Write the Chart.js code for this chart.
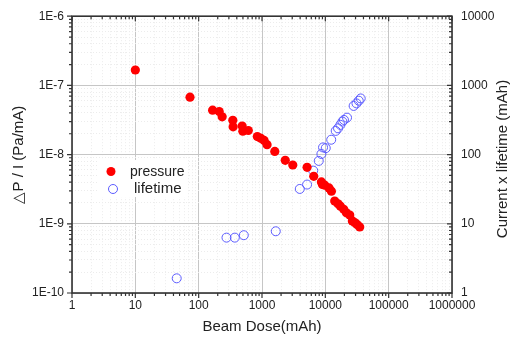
<!DOCTYPE html>
<html>
<head>
<meta charset="utf-8">
<script src="https://cdn.jsdelivr.net/npm/chart.js@4.4.1/dist/chart.umd.min.js"></script>
<style>
html, body { margin: 0; padding: 0; background: #fff; }
#wrap { position: relative; width: 511px; height: 338px; }
</style>
</head>
<body>
<div id="wrap"><canvas id="grafico"></canvas></div>
<script>
// pressure: beam dose (mAh) -> dP / I (Pa/mA), left axis
const pressureDose = [10, 73, 166, 211, 235, 346, 350, 486, 498, 608, 843, 957, 1080, 1203, 1592, 2330, 3060, 5150, 6560, 8670, 9000, 9790, 11430, 12470, 14060, 15850, 17300, 19500, 21500, 24300, 26700, 29100, 31600, 34900];
const pressureValue = [1.67e-7, 6.75e-8, 4.39e-8, 4.18e-8, 3.51e-8, 3.13e-8, 2.52e-8, 2.58e-8, 2.18e-8, 2.23e-8, 1.82e-8, 1.72e-8, 1.60e-8, 1.39e-8, 1.11e-8, 8.26e-9, 7.07e-9, 6.55e-9, 4.86e-9, 4.03e-9, 3.70e-9, 3.61e-9, 3.30e-9, 2.96e-9, 2.13e-9, 1.95e-9, 1.80e-9, 1.62e-9, 1.44e-9, 1.34e-9, 1.10e-9, 1.04e-9, 9.8e-10, 9.0e-10];

// lifetime: beam dose (mAh) -> current x lifetime (mAh), right axis
const lifetimeDose = [45, 275, 372, 516, 1650, 3950, 5150, 6440, 7870, 8670, 9200, 10150, 12380, 14580, 15860, 17300, 18600, 19700, 22000, 28000, 31000, 33700, 36200];
const lifetimeValue = [1.63, 6.31, 6.31, 6.84, 7.80, 31.9, 36.9, 58.7, 81.1, 102, 127, 124, 164, 220, 240, 269, 300, 317, 342, 505, 550, 601, 648];

// tick labels
const xTicks = [1, 10, 100, 1000, 10000, 100000, 1000000];
const xTickLabels = ["1", "10", "100", "1000", "10000", "100000", "1000000"];
const leftTicks = [1e-10, 1e-9, 1e-8, 1e-7, 1e-6];
const leftTickLabels = ["1E-10", "1E-9", "1E-8", "1E-7", "1E-6"];
const rightTicks = [1, 10, 100, 1000, 10000];
const rightTickLabels = ["1", "10", "100", "1000", "10000"];

const fonte = "'Liberation Sans', Arial, sans-serif";
const corTexto = "#222";
const corPressao = "#ff0000";
const corVida = "#5c5cff";

// decades + 2..9 minor ticks
function ticksLog(majors, labels) {
  const out = [];
  for (let i = 0; i < majors.length; i++) {
    out.push({ value: majors[i], major: true, txt: labels[i] });
    if (i < majors.length - 1) {
      for (let k = 2; k <= 9; k++) {
        out.push({ value: majors[i] * k, major: false, txt: "" });
      }
    }
  }
  return out;
}

function gridCor(ctx) {
  return ctx.tick && ctx.tick.major ? "#c6c6c6" : "#ececec";
}
function gridDash(ctx) {
  return ctx.tick && !ctx.tick.major ? [1, 2] : [];
}

// frame, tick marks, legend and right title
const molduraPlugin = {
  id: "moldura",
  afterDraw(chart) {
    const { ctx, chartArea: a, scales } = chart;
    ctx.save();
    ctx.strokeStyle = "#333";
    ctx.lineWidth = 1.6;
    ctx.strokeRect(a.left, a.top, a.right - a.left, a.bottom - a.top);

    ctx.lineWidth = 1.2;
    ctx.beginPath();
    scales.x.ticks.forEach(t => {
      const px = scales.x.getPixelForValue(t.value);
      const len = t.major ? 5 : 3;
      ctx.moveTo(px, a.bottom); ctx.lineTo(px, a.bottom + len);
      ctx.moveTo(px, a.top); ctx.lineTo(px, a.top + len);
    });
    scales.y.ticks.forEach(t => {
      const py = scales.y.getPixelForValue(t.value);
      const len = t.major ? 5 : 3;
      ctx.moveTo(a.left, py); ctx.lineTo(a.left - len, py);
    });
    scales.y2.ticks.forEach(t => {
      const py = scales.y2.getPixelForValue(t.value);
      const len = t.major ? 5 : 3;
      ctx.moveTo(a.right, py); ctx.lineTo(a.right - len, py);
    });
    ctx.stroke();

    // legend
    ctx.fillStyle = "#fff";
    ctx.fillRect(98, 160, 90, 37);
    ctx.fillStyle = corPressao;
    ctx.beginPath();
    ctx.arc(111, 171.5, 4.5, 0, Math.PI * 2);
    ctx.fill();
    ctx.strokeStyle = corVida;
    ctx.lineWidth = 1;
    ctx.beginPath();
    ctx.arc(113, 189, 4.5, 0, Math.PI * 2);
    ctx.stroke();
    ctx.fillStyle = corTexto;
    ctx.textBaseline = "middle";
    ctx.textAlign = "left";
    ctx.font = "14px " + fonte;
    ctx.fillText(chart.data.datasets[0].label, 130, 172);
    ctx.font = "15px " + fonte;
    ctx.fillText(chart.data.datasets[1].label, 134, 189);

    // right axis title, reads bottom to top
    ctx.translate(503, 159);
    ctx.rotate(-Math.PI / 2);
    ctx.textAlign = "center";
    ctx.font = "15px " + fonte;
    ctx.fillText("Current x lifetime (mAh)", 0, 0);
    ctx.restore();
  }
};

const grafico = new Chart(document.getElementById("grafico").getContext("2d"), {
  type: "scatter",
  data: {
    datasets: [{
      label: "pressure",
      data: pressureDose.map((x, i) => ({ x: x, y: pressureValue[i] })),
      yAxisID: "y",
      pointRadius: 4.6,
      pointBackgroundColor: corPressao,
      pointBorderColor: corPressao,
      pointBorderWidth: 0
    }, {
      label: "lifetime",
      data: lifetimeDose.map((x, i) => ({ x: x, y: lifetimeValue[i] })),
      yAxisID: "y2",
      pointRadius: 4.5,
      pointBackgroundColor: "rgba(0,0,0,0)",
      pointBorderColor: corVida,
      pointBorderWidth: 1
    }]
  },
  options: {
    responsive: true,
    maintainAspectRatio: false,
    animation: false,
    layout: { padding: 0 },
    plugins: {
      legend: { display: false },
      tooltip: { enabled: false }
    },
    scales: {
      x: {
        type: "logarithmic",
        position: "bottom",
        min: 1,
        max: 1000000,
        afterBuildTicks: s => { s.ticks = ticksLog(xTicks, xTickLabels); },
        afterFit: s => { s.height = 45; },
        grid: { color: gridCor, lineWidth: 1, drawTicks: false },
        border: { display: false, dash: gridDash },
        ticks: {
          autoSkip: false, maxRotation: 0, minRotation: 0, padding: 5,
          color: corTexto, font: { family: fonte, size: 12 },
          callback: (v, i, t) => t[i].txt
        },
        title: {
          display: true, text: "Beam Dose(mAh)", color: corTexto,
          font: { family: fonte, size: 15 }, padding: { top: 2, bottom: 2 }
        }
      },
      x2: {
        type: "logarithmic",
        position: "top",
        min: 1,
        max: 1000000,
        afterBuildTicks: s => { s.ticks = ticksLog(xTicks, xTickLabels); },
        afterFit: s => { s.height = 14; },
        grid: { drawOnChartArea: false, drawTicks: false },
        border: { display: false },
        ticks: { display: false }
      },
      y: {
        type: "logarithmic",
        position: "left",
        min: 1e-10,
        max: 1e-6,
        afterBuildTicks: s => { s.ticks = ticksLog(leftTicks, leftTickLabels); },
        afterFit: s => { s.width = 72; },
        grid: { color: gridCor, lineWidth: 1, drawTicks: false },
        border: { display: false, dash: gridDash },
        ticks: {
          autoSkip: false, padding: 8,
          color: corTexto, font: { family: fonte, size: 12 },
          callback: (v, i, t) => t[i].txt
        },
        title: {
          display: true, text: "△P / I (Pa/mA)", color: corTexto,
          font: { family: fonte, size: 15 }, padding: { top: 10, bottom: 10 }
        }
      },
      y2: {
        type: "logarithmic",
        position: "right",
        min: 1,
        max: 10000,
        afterBuildTicks: s => { s.ticks = ticksLog(rightTicks, rightTickLabels); },
        afterFit: s => { s.width = 59; },
        grid: { drawOnChartArea: false, drawTicks: false },
        border: { display: false },
        ticks: {
          autoSkip: false, padding: 9,
          color: corTexto, font: { family: fonte, size: 12 },
          callback: (v, i, t) => t[i].txt
        }
      }
    }
  },
  plugins: [molduraPlugin]
});
</script>
</body>
</html>
